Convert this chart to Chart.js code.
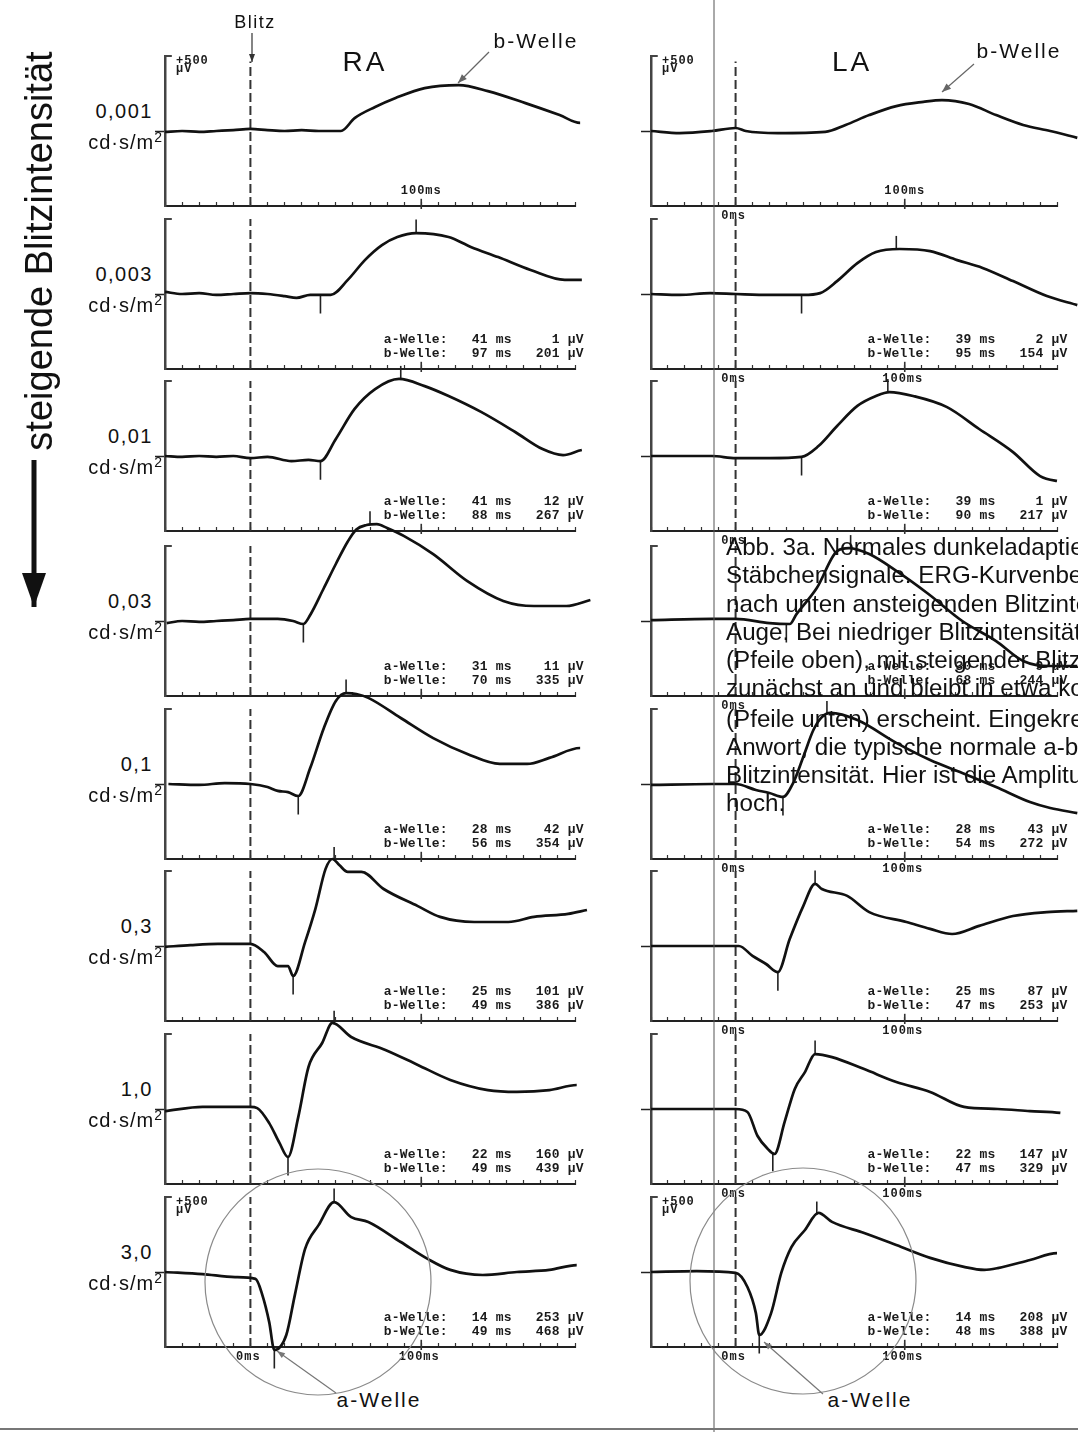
<!DOCTYPE html>
<html><head><meta charset="utf-8">
<script src="https://cdn.jsdelivr.net/npm/chart.js@4.4.1/dist/chart.umd.min.js"></script>
<style>
html,body{margin:0;padding:0;background:#fff;}
body{width:1078px;height:1432px;position:relative;overflow:hidden;font-family:"Liberation Sans",Arial,sans-serif;color:#111;}
canvas.p{position:absolute;}
.t{position:absolute;white-space:nowrap;line-height:1;}
.c{transform:translate(-50%,-50%);}
.mono{font-family:"Liberation Mono","DejaVu Sans Mono",monospace;font-weight:bold;white-space:pre;color:#1a1a1a;}
sup{font-size:14px;vertical-align:7px;line-height:0;}
#para{position:absolute;left:726px;top:0;width:352px;height:1432px;overflow:hidden;pointer-events:none;}
#para div{position:absolute;left:0;white-space:nowrap;font-size:24.2px;line-height:28px;color:#111;}
</style></head><body>
<script>
// ---------- DATA ----------
const INTENSITY = ['0,001','0,003','0,01','0,03','0,1','0,3','1,0','3,0'];
const UNIT = 'cd·s/m';

// traces: [time ms, µV relative to baseline]
const RA_0001 = [[-50,-3],[-40,0],[-30,-3],[-20,0],[-10,3],[0,7],[10,3],[20,0],[30,3],[40,0],[53,0],[61,43],[73,80],[85,110],[102,143],[122,153],[139,133],[161,93],[181,53],[193,27],[200,30]];
const RA_0003 = [[-50,7],[-40,0],[-30,3],[-20,-3],[-10,0],[0,3],[10,0],[20,-7],[27,-13],[35,-3],[47,-3],[57,47],[67,113],[77,163],[86,190],[97,203],[116,190],[129,157],[145,123],[164,80],[184,47],[194,47],[200,53]];
const RA_001 = [[-50,0],[-40,-3],[-30,0],[-20,-3],[-10,0],[0,-7],[10,-3],[24,-17],[34,-13],[41,-17],[50,57],[61,157],[73,223],[87,257],[102,233],[116,200],[135,147],[155,80],[171,23],[183,3],[194,20],[200,23]];
const RA_003 = [[-49,-7],[-40,0],[-30,-3],[-20,0],[-10,3],[0,7],[16,7],[25,0],[31,-10],[35,20],[43,110],[50,190],[57,265],[62,305],[68,320],[74,323],[80,310],[90,283],[107,223],[127,133],[148,67],[166,50],[185,50],[199,70]];
const RA_01 = [[-48,0],[-30,-3],[-15,3],[0,0],[10,-10],[16,-23],[22,-27],[28,-40],[35,53],[43,187],[50,277],[56,303],[62,300],[69,287],[88,220],[107,153],[127,100],[146,67],[162,67],[175,87],[193,120],[199,117]];
const RA_03 = [[-50,-3],[-35,3],[-19,7],[0,7],[8,-20],[16,-67],[22,-67],[25,-100],[32,13],[38,123],[44,257],[48,290],[52,270],[57,247],[65,247],[78,190],[98,133],[111,97],[131,80],[151,80],[166,97],[186,107],[197,120]];
const RA_1 = [[-50,-7],[-28,7],[0,7],[4,3],[11,-47],[17,-113],[22,-160],[28,-27],[34,140],[42,220],[48,287],[59,240],[79,197],[98,147],[117,97],[139,63],[156,57],[175,63],[191,80],[198,73]];
const RA_3 = [[-50,0],[-28,-7],[-9,-17],[3,-23],[7,-77],[11,-167],[14,-260],[21,-210],[26,-77],[32,77],[40,157],[49,233],[59,183],[69,167],[88,100],[104,43],[117,7],[136,-10],[156,0],[175,7],[191,23],[198,13]];

const LA_0001 = [[-50,0],[-33,-7],[-14,0],[0,10],[6,0],[25,-7],[53,-3],[65,20],[79,53],[95,83],[111,97],[122,103],[138,90],[154,53],[170,20],[186,0],[202,-23]];
const LA_0003 = [[-50,0],[-33,-3],[-15,3],[0,0],[20,-3],[40,-3],[50,3],[60,43],[72,103],[83,140],[97,150],[115,143],[131,113],[146,87],[164,43],[184,-7],[202,-37]];
const LA_001 = [[-50,0],[-14,0],[0,-7],[20,-7],[39,-3],[49,33],[60,100],[72,167],[83,200],[91,213],[105,200],[125,163],[144,90],[164,13],[180,-67],[190,-83],[202,-87]];
const LA_003 = [[-50,3],[-14,7],[0,7],[20,-7],[32,-10],[36,23],[48,110],[60,233],[67,243],[79,223],[95,167],[114,90],[134,0],[154,-67],[170,-133],[186,-150],[202,-150]];
const LA_01 = [[-50,-3],[-14,0],[0,0],[12,-20],[20,-30],[28,-43],[34,3],[40,90],[46,180],[51,223],[56,237],[72,213],[95,137],[115,80],[134,37],[154,-10],[174,-60],[186,-80],[202,-97]];
const LA_03 = [[-50,0],[-23,0],[2,0],[10,-33],[18,-60],[25,-87],[32,23],[40,133],[47,207],[51,190],[66,167],[79,113],[101,80],[115,57],[128,40],[144,67],[164,100],[184,113],[202,117]];
const LA_1 = [[-50,0],[-20,0],[0,0],[7,-10],[13,-90],[19,-133],[23,-150],[29,-43],[35,67],[41,123],[47,183],[57,173],[76,133],[95,90],[115,57],[135,7],[155,0],[174,-7],[192,-13],[202,-23]];
const LA_3 = [[-50,0],[-23,3],[0,-3],[7,-50],[12,-137],[14,-210],[21,-137],[27,-3],[33,83],[41,140],[49,197],[57,167],[76,130],[95,90],[115,47],[135,17],[147,7],[155,13],[174,40],[190,63],[202,63]];

const RA_TRACES = [RA_0001, RA_0003, RA_001, RA_003, RA_01, RA_03, RA_1, RA_3];
const LA_TRACES = [LA_0001, LA_0003, LA_001, LA_003, LA_01, LA_03, LA_1, LA_3];

const RA_A_MS = [null, 41, 41, 31, 28, 25, 22, 14];
const RA_A_UV = [null, 1, 12, 11, 42, 101, 160, 253];
const RA_B_MS = [null, 97, 88, 70, 56, 49, 49, 49];
const RA_B_UV = [null, 201, 267, 335, 354, 386, 439, 468];
const LA_A_MS = [null, 39, 39, 30, 28, 25, 22, 14];
const LA_A_UV = [null, 2, 1, 9, 43, 87, 147, 208];
const LA_B_MS = [null, 95, 90, 68, 54, 47, 47, 48];
const LA_B_UV = [null, 154, 217, 244, 272, 253, 329, 388];

const X_TICK_STEP = 10;
const X_MIN = -50, X_MAX = 190, Y_MIN = -250, Y_MAX = 250;

// ---------- LAYOUT ----------
const PANEL_BOTTOM = [206, 369, 531, 696, 859, 1021, 1184, 1347];
const AREA_H = 150;
const PAD = {top: 40, right: 28, bottom: 28};
const COLS = [
  {axisX: 165, pxPerMs: 1.71, traces: RA_TRACES, aMs: RA_A_MS, aUv: RA_A_UV, bMs: RA_B_MS, bUv: RA_B_UV,
   zeroRows: [7], hundredBelowRows: [7], hundredAboveRows: [0], uvRows: [0, 7]},
  {axisX: 651, pxPerMs: 1.69, traces: LA_TRACES, aMs: LA_A_MS, aUv: LA_A_UV, bMs: LA_B_MS, bUv: LA_B_UV,
   zeroRows: [0,1,2,3,4,5,6,7], hundredBelowRows: [1,4,5,6,7], hundredAboveRows: [0], uvRows: [0, 7]}
];

function valueAt(tr, t) {
  for (let i = 1; i < tr.length; i++) {
    if (tr[i][0] >= t) {
      const [x0, y0] = tr[i-1], [x1, y1] = tr[i];
      return y0 + (y1 - y0) * (t - x0) / (x1 - x0);
    }
  }
  return tr[tr.length-1][1];
}

function addText(html, x, y, cls, style) {
  const d = document.createElement('div');
  d.className = 't ' + (cls || '');
  d.innerHTML = html;
  d.style.left = x + 'px'; d.style.top = y + 'px';
  if (style) Object.assign(d.style, style);
  document.body.appendChild(d);
  return d;
}

const charts = [];
function makePanel(ci, r) {
  const col = COLS[ci];
  const areaW = Math.round((X_MAX - X_MIN) * col.pxPerMs);
  const W = 10 + areaW + PAD.right, H = PAD.top + AREA_H + 6 + PAD.bottom;
  const cv = document.createElement('canvas');
  cv.className = 'p'; cv.width = W; cv.height = H;
  const left = col.axisX - 10, top = PANEL_BOTTOM[r] - AREA_H - PAD.top;
  cv.style.left = left + 'px'; cv.style.top = top + 'px';
  document.body.appendChild(cv);
  const tr = col.traces[r];
  const ds = [];
  ds.push({data: tr.map(p => ({x: p[0], y: p[1]})), borderColor: '#111', borderWidth: 2.7,
           pointRadius: 0, cubicInterpolationMode: 'monotone', clip: false, fill: false});
  if (col.aMs[r] != null) {
    const va = valueAt(tr, col.aMs[r]);
    ds.push({data: [{x: col.aMs[r], y: va}, {x: col.aMs[r], y: va - 62}], borderColor: '#222', borderWidth: 1.6, pointRadius: 0, clip: false});
    const vb = valueAt(tr, col.bMs[r]);
    ds.push({data: [{x: col.bMs[r], y: vb}, {x: col.bMs[r], y: vb + 45}], borderColor: '#222', borderWidth: 1.6, pointRadius: 0, clip: false});
  }
  ds.push({data: [{x: 0, y: Y_MIN}, {x: 0, y: r === 0 ? 232 : Y_MAX}], borderColor: '#333', borderWidth: 2,
           borderDash: [9, 4], pointRadius: 0, clip: false});
  ds.push({data: [{x: 100, y: Y_MIN - 10}, {x: 100, y: Y_MIN + 24}], borderColor: '#333', borderWidth: 1.6, pointRadius: 0, clip: false});
  ds.push({data: [{x: X_MIN, y: Y_MAX}, {x: X_MIN + 4, y: Y_MAX}], borderColor: '#444', borderWidth: 2, pointRadius: 0, clip: false});

  const ch = new Chart(cv, {
    type: 'line',
    data: {datasets: ds},
    options: {
      responsive: false, animation: false, events: [], devicePixelRatio: 1,
      layout: {padding: {top: PAD.top, right: PAD.right, bottom: PAD.bottom, left: 0}},
      plugins: {legend: {display: false}, tooltip: {enabled: false}, title: {display: false}},
      scales: {
        x: {type: 'linear', min: X_MIN, max: X_MAX,
            afterFit: s => { s.height = 6; },
            ticks: {display: false, stepSize: X_TICK_STEP},
            grid: {drawOnChartArea: false, drawTicks: true, tickLength: -4, tickColor: '#333', tickWidth: 1.2},
            border: {display: true, color: '#222', width: 2}},
        y: {type: 'linear', min: Y_MIN, max: Y_MAX,
            afterFit: s => { s.width = 10; },
            afterBuildTicks: s => { s.ticks = [{value: 0}]; },
            ticks: {display: false},
            grid: {drawOnChartArea: false, drawTicks: true, tickLength: 10, tickColor: '#222', tickWidth: 1.5},
            border: {display: true, color: '#444', width: 2.5}}
      }
    }
  });
  charts.push(ch);

  const xs = ch.scales.x, ys = ch.scales.y;
  const px = v => left + xs.getPixelForValue(v);
  const py = v => top + ys.getPixelForValue(v);
  const bottom = py(Y_MIN);
  if (col.aMs[r] != null) {
    const l1 = 'a-Welle:  ' + String(col.aMs[r]).padStart(3) + ' ms  ' + String(col.aUv[r]).padStart(4) + ' µV';
    const l2 = 'b-Welle:  ' + String(col.bMs[r]).padStart(3) + ' ms  ' + String(col.bUv[r]).padStart(4) + ' µV';
    addText(l1 + '\n' + l2, px(78), bottom - 36, 'mono', {fontSize: '13px', lineHeight: '14px', letterSpacing: '0.2px'});
  }
  const small = {fontSize: '12px', letterSpacing: '1px'};
  if (col.hundredAboveRows.includes(r)) addText('100ms', px(100), bottom - 15, 'mono c', small);
  if (col.hundredBelowRows.includes(r)) addText('100ms', px(100) - 2, bottom + 10, 'mono c', small);
  if (col.zeroRows.includes(r)) addText('0ms', px(0) - 2, bottom + 10, 'mono c', small);
  if (col.uvRows.includes(r)) {
    addText('+500<br>µV', col.axisX + 11, PANEL_BOTTOM[r] - AREA_H + 1, 'mono', {fontSize: '12px', lineHeight: '8px', letterSpacing: '1px'});
  }
  if (ci === 0) {
    const base = py(0);
    addText(INTENSITY[r], 0, base - 30, '', {fontSize: '20px', letterSpacing: '1.5px', width: '153px', textAlign: 'right'});
    addText(UNIT + '<sup>2</sup>', 0, base + 1, '', {fontSize: '20px', letterSpacing: '1px', width: '163px', textAlign: 'right'});
  }
}

for (let ci = 0; ci < 2; ci++) for (let r = 0; r < 8; r++) makePanel(ci, r);

addText('Blitz', 255, 22, 'c', {fontSize: '18px', letterSpacing: '1.5px'});
addText('RA', 365, 62, 'c', {fontSize: '28px', letterSpacing: '3px'});
addText('LA', 852, 62, 'c', {fontSize: '28px', letterSpacing: '3px'});
addText('b-Welle', 536, 40, 'c', {fontSize: '21px', letterSpacing: '2px'});
addText('b-Welle', 1019, 50, 'c', {fontSize: '21px', letterSpacing: '2px'});
addText('a-Welle', 379, 1399, 'c', {fontSize: '21px', letterSpacing: '2px'});
addText('a-Welle', 870, 1399, 'c', {fontSize: '21px', letterSpacing: '2px'});
addText('steigende Blitzintensität', 39, 251, '', {fontSize: '38px', transform: 'translate(-50%,-50%) rotate(-90deg)'});

const NS = 'http://www.w3.org/2000/svg';
const svg = document.createElementNS(NS, 'svg');
svg.setAttribute('width', 1078); svg.setAttribute('height', 1432);
Object.assign(svg.style, {position: 'absolute', left: '0', top: '0', pointerEvents: 'none'});
function el(tag, attrs) { const e = document.createElementNS(NS, tag); for (const k in attrs) e.setAttribute(k, attrs[k]); svg.appendChild(e); return e; }
function arrow(x1, y1, x2, y2, color, w, hl, hw) {
  el('line', {x1, y1, x2, y2, stroke: color, 'stroke-width': w});
  const dx = x2 - x1, dy = y2 - y1, L = Math.hypot(dx, dy), ux = dx / L, uy = dy / L;
  const bx = x2 - ux * hl, by = y2 - uy * hl;
  el('polygon', {points: `${x2},${y2} ${bx - uy * hw},${by + ux * hw} ${bx + uy * hw},${by - ux * hw}`, fill: color});
}
el('line', {x1: 714, y1: 0, x2: 714, y2: 1432, stroke: '#555', 'stroke-width': 1});
el('line', {x1: 0, y1: 1429, x2: 1078, y2: 1429, stroke: '#777', 'stroke-width': 2});
el('circle', {cx: 318, cy: 1282, r: 113, fill: 'none', stroke: '#8a8a8a', 'stroke-width': 1.2});
el('circle', {cx: 803, cy: 1281, r: 113, fill: 'none', stroke: '#8a8a8a', 'stroke-width': 1.2});
arrow(252, 33, 252, 62, '#333', 1.2, 8, 3);
arrow(489, 52, 458, 83, '#666', 1.2, 9, 3.5);
arrow(974, 64, 942, 92, '#666', 1.2, 9, 3.5);
arrow(336, 1393, 277, 1351, '#777', 1.2, 8, 3);
arrow(823, 1394, 764, 1342, '#777', 1.2, 8, 3);
arrow(34, 460, 34, 607, '#111', 5, 34, 12);
document.body.appendChild(svg);

const PARA_LINES = [
  'Abb. 3a. Normales dunkeladaptiertes',
  'Stäbchensignale. ERG-Kurvenbeispiele',
  'nach unten ansteigenden Blitzintensitäten',
  'Auge. Bei niedriger Blitzintensität',
  '(Pfeile oben), mit steigender Blitzintensität',
  'zunächst an und bleibt in etwa konstant',
  '(Pfeile unten) erscheint. Eingekreist',
  'Anwort, die typische normale a-b-Welle',
  'Blitzintensität. Hier ist die Amplitude',
  'hoch.'
];
const PARA_BASE = [555, 583, 612, 640, 668, 696, 727, 755, 783, 811];
const para = document.createElement('div'); para.id = 'para';
PARA_LINES.forEach((s, i) => { const d = document.createElement('div'); d.textContent = s; d.style.top = (PARA_BASE[i] - 22) + 'px'; para.appendChild(d); });
document.body.appendChild(para);
</script>
</body></html>
